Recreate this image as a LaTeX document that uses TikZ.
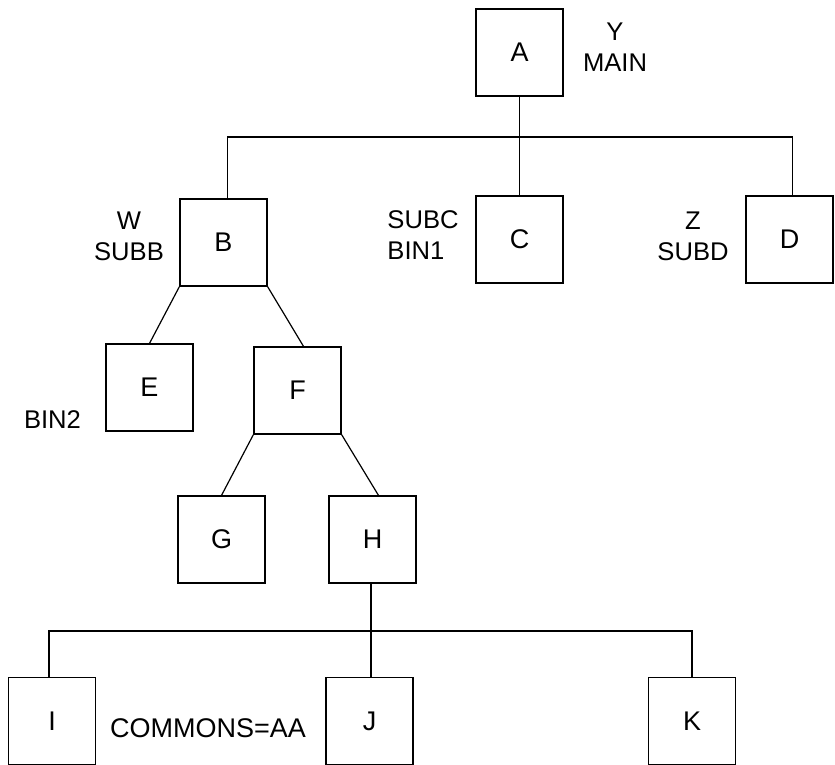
\documentclass[tikz,border=0pt]{standalone}
\usepackage{fontspec}
\setmainfont{Liberation Sans}
\usepackage{tikz}
\usetikzlibrary{positioning, calc}

\begin{document}
\begin{tikzpicture}[
    x=0.5pt, y=-0.5pt,
    module/.style={draw, line width=0.6pt, minimum size=43.5pt, inner sep=0pt, font=\fontsize{13.5}{15}\selectfont},
    note/.style={font=\fontsize{12.8}{15.5}\selectfont, align=center, inner sep=0pt},
    link/.style={line width=0.6pt}
]
    \useasboundingbox (0,0) rectangle (835,765);

    % Top level
    \node[module] (A) at (519.5, 52.5) {A};
    \node[note] (lblA) at (615, 47) {Y\\MAIN};

    % Second level
    \node[module] (B) at (223.5, 242.5) {B};
    \node[module] (C) at (519.5, 239.5) {C};
    \node[module] (D) at (789.5, 239.5) {D};
    \node[note] (lblB) at (129, 236) {W\\SUBB};
    \node[note, align=left] (lblC) at (423, 235) {SUBC\\BIN1};
    \node[note] (lblD) at (693, 236) {Z\\SUBD};

    % Under B
    \node[module] (E) at (149.5, 387.5) {E};
    \node[module] (F) at (297.5, 390.5) {F};
    \node[note] (lblE) at (52.5, 420) {BIN2};

    % Under F
    \node[module] (G) at (221.5, 539.5) {G};
    \node[module] (H) at (372.5, 539.5) {H};

    % Under H
    \node[module] (I) at (52, 721) {I};
    \node[module] (J) at (369.5, 721) {J};
    \node[module] (K) at (692, 721) {K};
    \node[note, font=\fontsize{13.5}{15}\selectfont] (lblI) at (208, 728) {COMMONS=AA};

    % Connections
    \coordinate (busA) at (519.5, 137);
    \coordinate (busH) at (371, 631);
    \draw[link] (A.south) -- (busA);
    \draw[link] ([xshift=2pt]B.north) |- (busA) -| ([xshift=1.5pt]D.north);
    \draw[link] (busA) -- (C.north);

    \draw[link] (B.south west) -- (E.north);
    \draw[link] (B.south east) -- ([xshift=3pt]F.north);
    \draw[link] (F.south west) -- (G.north);
    \draw[link] (F.south east) -- ([xshift=3pt]H.north);

    \draw[link] (busH |- H.south) -- (busH);
    \draw[link] ([xshift=-1.5pt]I.north) |- (busH) -| (K.north);
    \draw[link] (busH) -- (busH |- J.north);

\end{tikzpicture}
\end{document}
